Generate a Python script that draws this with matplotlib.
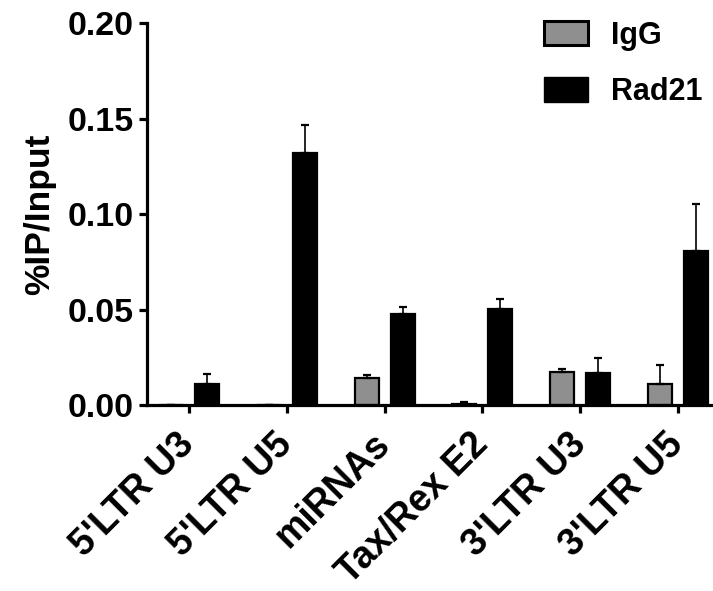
import numpy as np
import matplotlib
matplotlib.use("Agg")
import matplotlib.pyplot as plt
from matplotlib.patches import Patch

# Dữ liệu
regions = ["5'LTR U3", "5'LTR U5", "miRNAs", "Tax/Rex E2", "3'LTR U3", "3'LTR U5"]
igg = [0.0, 0.0, 0.0139, 0.0006, 0.0172, 0.0108]
igg_err = [0.0, 0.0, 0.0020, 0.0011, 0.0018, 0.0101]
rad21 = [0.0110, 0.1320, 0.0474, 0.0503, 0.0169, 0.0806]
rad21_err = [0.0052, 0.0146, 0.0039, 0.0054, 0.0079, 0.0246]

plt.rcParams['font.family'] = ['Liberation Sans', 'DejaVu Sans']
plt.rcParams['font.weight'] = 'bold'

fig = plt.figure(figsize=(7.13, 5.91), dpi=100)
ax = fig.add_axes([0.2057, 0.3147, 0.7943, 0.6463])

x = np.arange(len(regions))
w = 0.245
off = 0.184

ax.bar(x - off, igg, w, color='#8f8f8f', edgecolor='black', linewidth=1.6, zorder=2)
ax.bar(x + off, rad21, w, color='black', edgecolor='black', linewidth=1.6, zorder=2)
ax.errorbar(x - off, igg, yerr=[np.zeros(len(igg)), igg_err], fmt='none',
            ecolor='black', elinewidth=1.2, capsize=2.6, capthick=1.6, zorder=3)
ax.errorbar(x + off, rad21, yerr=[np.zeros(len(rad21)), rad21_err], fmt='none',
            ecolor='black', elinewidth=1.2, capsize=2.6, capthick=1.6, zorder=3)

ax.set_xlim(-0.432, 5.357)
ax.set_ylim(0, 0.20)
ax.set_yticks([0.0, 0.05, 0.10, 0.15, 0.20])
ax.set_yticklabels(['0.00', '0.05', '0.10', '0.15', '0.20'])
ax.set_xticks(x)
ax.set_xticklabels(regions, rotation=45, ha='right', va='center', rotation_mode='anchor')

for s in ['top', 'right']:
    ax.spines[s].set_visible(False)
for s in ['left', 'bottom']:
    ax.spines[s].set_linewidth(2.3)
ax.tick_params(axis='both', width=2.3, length=5.5, pad=4)
ax.tick_params(axis='y', labelsize=24.5)
ax.tick_params(axis='x', labelsize=27, pad=19)

ax.set_ylabel('%IP/Input', fontsize=25.5, fontweight='bold', labelpad=8)

handles = [Patch(facecolor='#8f8f8f', edgecolor='black', linewidth=2.2, label='IgG'),
           Patch(facecolor='black', edgecolor='black', label='Rad21')]
fig.legend(handles=handles, loc='upper left', bbox_to_anchor=(0.763, 0.965),
           frameon=False, fontsize=22, handlelength=1.44, handleheight=0.85,
           handletextpad=0.75, labelspacing=0.86, borderpad=0, borderaxespad=0)

fig.savefig('out.png', dpi=100)
